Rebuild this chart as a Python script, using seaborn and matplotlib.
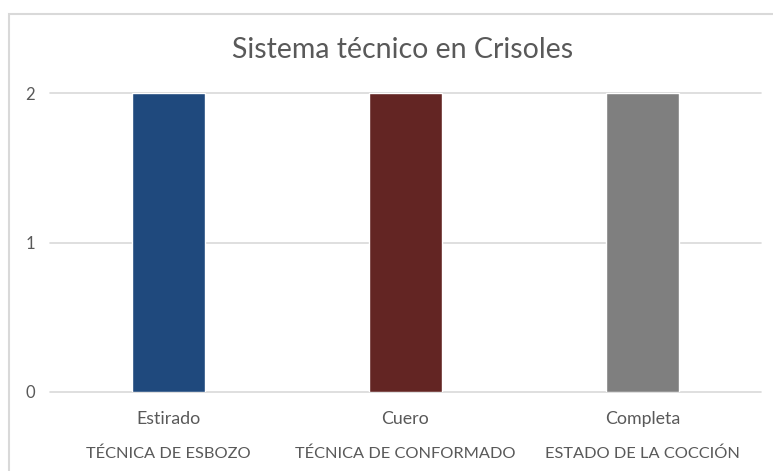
import matplotlib
matplotlib.use("Agg")
import matplotlib.pyplot as plt
from matplotlib.patches import Rectangle
from matplotlib.transforms import blended_transform_factory
import seaborn as sns
import pandas as pd

# Chart data
categories = ["Estirado", "Cuero", "Completa"]
groups = ["TÉCNICA DE ESBOZO", "TÉCNICA DE CONFORMADO", "ESTADO DE LA COCCIÓN"]
values = [2, 2, 2]
colors = ["#1F497D", "#632523", "#7F7F7F"]
yticks = [0, 1, 2]
title = "Sistema técnico en Crisoles"

sns.set_theme(style="white")
plt.rcParams["font.family"] = ["Lato", "DejaVu Sans"]

W, H = 773, 471
fig = plt.figure(figsize=(W / 100, H / 100), dpi=100)
ax = fig.add_axes([50 / W, 1 - 392 / H, 711 / W, 299 / H])

df = pd.DataFrame({"cat": categories, "val": values})
sns.barplot(data=df, x="cat", y="val", hue="cat", palette=colors,
            width=0.31, legend=False, ax=ax, saturation=1, zorder=3)

grid_c = "#D9D9D9"
text_c = "#595959"
ax.set_ylim(0, 2)
ax.set_xlim(-0.5, len(categories) - 0.5)
ax.set_yticks(yticks)
ax.set_yticklabels([str(t) for t in yticks], color=text_c, fontsize=12)
ax.yaxis.grid(True, color=grid_c, lw=1.2, zorder=0, clip_on=False)
for gl in ax.get_ygridlines():
    gl.set_clip_on(False)
for s in ax.spines.values():
    s.set_visible(False)
ax.tick_params(axis="y", length=0, pad=11)
ax.tick_params(axis="x", length=0, pad=14, labelsize=12.8, labelcolor=text_c)
ax.set_xlabel("")
ax.set_ylabel("")

# Second level of category labels
trans = blended_transform_factory(ax.transData, fig.transFigure)
for i, g in enumerate(groups):
    ax.text(i, 1 - 454 / H, g, transform=trans, ha="center", va="center",
            fontsize=11.8, color=text_c)

fig.text(403 / W, 1 - 50 / H, title, ha="center", va="center",
         fontsize=20.5, color=text_c)

# Chart frame
fig.patches.append(Rectangle((8.5 / W, -0.1), 1.0, (H - 13.5) / H + 0.1,
                             transform=fig.transFigure, fill=False,
                             ec=grid_c, lw=1.5))

fig.savefig("out.png", dpi=100, facecolor="white")
